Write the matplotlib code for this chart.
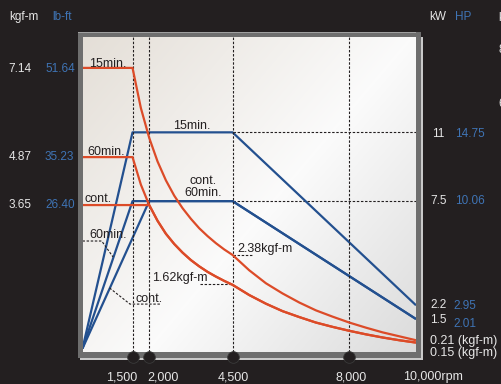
import numpy as np
import matplotlib
matplotlib.use("Agg")
import matplotlib.pyplot as plt
from matplotlib.patches import Rectangle

plt.rcParams['font.family'] = ['Liberation Sans', 'DejaVu Sans']

# ---------------- data ----------------
# torque curves (rpm, kgf-m)
t15_rpm = [0, 1500, 1750, 2000, 2250, 2500, 2750, 3000, 3250, 3500, 3750, 4000, 4250, 4500,
           5000, 5500, 6000, 6500, 7000, 7500, 8000, 8500, 9000, 9500, 10000]
t15_val = [7.14, 7.14, 6.12, 5.36, 4.76, 4.28, 3.89, 3.57, 3.30, 3.06, 2.86, 2.68, 2.52, 2.38,
           1.99, 1.66, 1.40, 1.17, 0.97, 0.81, 0.66, 0.53, 0.41, 0.31, 0.21]
t60_rpm = [0, 1500, 1750, 2000, 2250, 2500, 2750, 3000, 3250, 3500, 3750, 4000, 4250, 4500,
           5000, 5500, 6000, 6500, 7000, 7500, 8000, 8500, 9000, 9500, 10000]
t60_val = [4.87, 4.87, 4.17, 3.65, 3.25, 2.92, 2.66, 2.44, 2.25, 2.09, 1.95, 1.83, 1.72, 1.62,
           1.36, 1.14, 0.95, 0.80, 0.66, 0.55, 0.45, 0.36, 0.28, 0.21, 0.15]
tc_rpm = [0, 2000, 2250, 2500, 2750, 3000, 3250, 3500, 3750, 4000, 4250, 4500,
          5000, 5500, 6000, 6500, 7000, 7500, 8000, 8500, 9000, 9500, 10000]
tc_val = [3.65, 3.65, 3.25, 2.92, 2.66, 2.44, 2.25, 2.09, 1.95, 1.83, 1.72, 1.62,
          1.36, 1.14, 0.95, 0.80, 0.66, 0.55, 0.45, 0.36, 0.28, 0.21, 0.15]

# power curves (rpm, kW)
p15_rpm = [0, 1500, 4500, 10000]
p15_val = [0, 11, 11, 2.2]
p60_rpm = [0, 1500, 4500, 10000]
p60_val = [0, 7.5, 7.5, 1.5]
pc_rpm = [0, 2000, 4500, 10000]
pc_val = [0, 7.5, 7.5, 1.5]

guide_rpm = [1500, 2000, 4500, 8000]
x_labels = ["1,500", "2,000", "4,500", "8,000"]

left_kgf = ["7.14", "4.87", "3.65"]
left_lbft = ["51.64", "35.23", "26.40"]
right_kw = ["11", "7.5", "2.2", "1.5"]
right_hp = ["14.75", "10.06", "2.95", "2.01"]

# ---------------- style ----------------
W, H = 501, 384
BG = '#231f20'
RED = '#dc4b28'
BLUE = '#23508f'
TXT_W = '#e6e6e6'
TXT_B = '#3f74b5'
DARK = '#231f20'
dash = (0, (2.2, 1.5))

fig = plt.figure(figsize=(W / 100, H / 100), dpi=100, facecolor=BG)

# background axes in pixel coordinates (frame + gradient)
bg = fig.add_axes([0, 0, 1, 1])
bg.axis('off')
bg.set_facecolor(BG)
bg.add_patch(Rectangle((80, 37), 343, 323, color='#c9c9c9', lw=0, zorder=1))
bg.add_patch(Rectangle((78, 32), 343, 326, color='#6e6e6e', lw=0, zorder=1.1))
bg.add_patch(Rectangle((78, 31.5), 338, 1.2, color='#a0a0a0', lw=0, zorder=1.2))

nx, ny = 200, 200
u = np.linspace(0, 1, nx)[None, :]
v = np.linspace(0, 1, ny)[:, None]
t = (u * 1.0 + v * 0.8) / 1.8
c0 = np.array([0.895, 0.873, 0.843])
c1 = np.array([0.985, 0.985, 0.985])
c2 = np.array([0.86, 0.86, 0.86])
img = np.zeros((ny, nx, 3))
for k in range(3):
    img[:, :, k] = np.where(t < 0.55,
                            c0[k] + (c1[k] - c0[k]) * (t / 0.55),
                            c1[k] + (c2[k] - c1[k]) * ((t - 0.55) / 0.45))
bg.imshow(img, extent=(83, 416, 352, 37), origin='upper', aspect='auto',
          interpolation='bilinear', zorder=3)
bg.set_xlim(0, W)
bg.set_ylim(H, 0)

# main axes
x0, x1 = 82.5, 416
y_top, y_bot = 37, 352
y_zero = 348.5
sc_t = 39.3
ax = fig.add_axes([x0 / W, (H - y_bot) / H, (x1 - x0) / W, (y_bot - y_top) / H])
ax.set_facecolor('none')
ax.set_xlim(0, 10000)
t_lo = -(y_bot - y_zero) / sc_t
t_hi = (y_zero - y_top) / sc_t
ax.set_ylim(t_lo, t_hi)
ax2 = ax.twinx()
ax2.set_ylim(2 * t_lo, 2 * t_hi)
for a in (ax, ax2):
    a.set_xticks([])
    a.set_yticks([])
    for s in a.spines.values():
        s.set_visible(False)

# guide lines
for r in guide_rpm:
    ax.plot([r, r], [t_lo, t_hi], color=DARK, lw=0.8, ls=dash, zorder=1)
ax2.plot([4500, 10000], [11, 11], color=DARK, lw=0.8, ls=dash, zorder=1)
ax2.plot([4500, 10000], [7.5, 7.5], color=DARK, lw=0.8, ls=dash, zorder=1)

# power lines (blue)
for xs, ys in ((p15_rpm, p15_val), (p60_rpm, p60_val), (pc_rpm, pc_val)):
    ax2.plot(xs, ys, color=BLUE, lw=1.6, zorder=3, solid_capstyle='butt')

# torque lines (red)
ax.set_zorder(2)
ax2.set_zorder(1)
for xs, ys in ((t15_rpm, t15_val), (t60_rpm, t60_val), (tc_rpm, tc_val)):
    ax.plot(xs, ys, color=RED, lw=1.6, zorder=4, solid_capstyle='butt')

# leader lines (torque coords)
ax.plot([0, 576, 915], [2.735, 2.735, 2.33], color=DARK, lw=0.8, ls=dash)
ax.plot([812, 1424, 2324], [1.54, 1.13, 1.13], color=DARK, lw=0.8, ls=dash)
ax.plot([3523, 4500], [1.634, 1.634], color=DARK, lw=0.8, ls=dash)
ax.plot([4500, 5100], [2.38, 2.38], color=DARK, lw=0.8, ls=dash)

# dots on bottom border
ax.plot(guide_rpm, [-(357 - y_zero) / sc_t] * len(guide_rpm), 'o', ms=8.4,
        color=DARK, mec='#3a3a3a', mew=0.6, clip_on=False, zorder=10)


def ft(px, py, s, color=DARK, size=9, ha='left'):
    fig.text(px / W, 1 - py / H, s, color=color, fontsize=size, ha=ha, va='baseline')


# in-plot labels
ft(89, 67, "15min.")
ft(87, 155, "60min.")
ft(84.5, 202.5, "cont.")
ft(173, 129, "15min.")
ft(203, 184, "cont.", ha='center')
ft(203, 196.5, "60min.", ha='center')
ft(89, 238, "60min.")
ft(135, 301.5, "cont.")
ft(152, 281.5, "1.62kgf-m")
ft(237, 252, "2.38kgf-m")

# left axis labels
ft(9, 20, "kgf-m", TXT_W, 8.5)
ft(52, 20, "lb-ft", TXT_B, 8.5)
for s1, s2, yb in zip(left_kgf, left_lbft, [72.5, 160, 208]):
    ft(8.3, yb, s1, TXT_W, 8.5)
    ft(45, yb, s2, TXT_B, 8.5)

# right axis labels
ft(429.5, 20.5, "kW", TXT_W, 8.5)
ft(455.3, 20.5, "HP", TXT_B, 8.5)
ft(498.3, 20.5, "kgf-m", TXT_W, 8.5)
ft(498.5, 53, "8", TXT_W, 8.5)
ft(498.5, 107, "6", TXT_W, 8.5)
ft(432.3, 137.3, right_kw[0], TXT_W, 8.5)
ft(455, 137.3, right_hp[0], TXT_B, 8.5)
ft(430, 204, right_kw[1], TXT_W, 8.5)
ft(455, 204, right_hp[1], TXT_B, 8.5)
ft(430, 308.3, right_kw[2], TXT_W, 8.5)
ft(453.3, 309.3, right_hp[2], TXT_B, 8.5)
ft(430, 323.3, right_kw[3], TXT_W, 8.5)
ft(453.3, 326.7, right_hp[3], TXT_B, 8.5)
ft(430, 344, "0.21 (kgf-m)", TXT_W, 9)
ft(430, 356, "0.15 (kgf-m)", TXT_W, 9)

# bottom rpm labels
for lab, px in zip(x_labels, [122, 163, 233, 351]):
    ft(px, 380, lab, TXT_W, 9, ha='center')
ft(403, 380, "10,000rpm", TXT_W, 9)

fig.savefig("out.png", dpi=100, facecolor=BG)
